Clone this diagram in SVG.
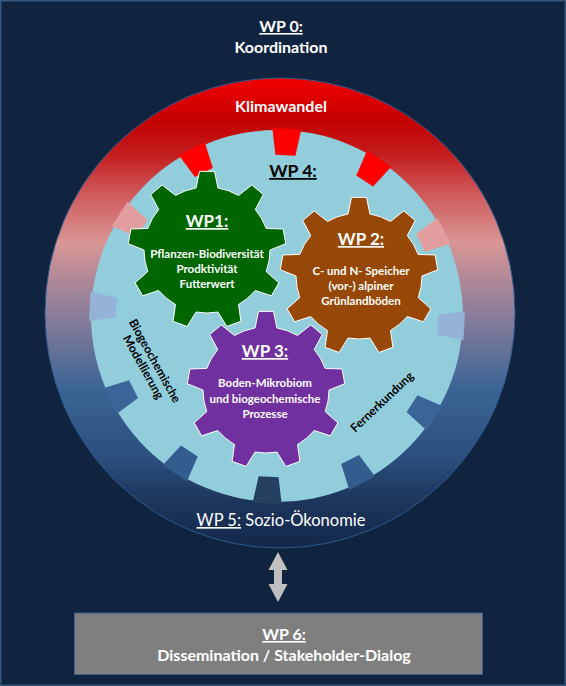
<svg xmlns="http://www.w3.org/2000/svg" xmlns:xlink="http://www.w3.org/1999/xlink" width="566" height="686" viewBox="0 0 566 686">
<style>
  text { font-family: "Lato", "Open Sans", "Liberation Sans", sans-serif; }
  .w { fill: #ffffff; font-weight: bold; }
  .k { fill: #000000; font-weight: bold; }
  .u { text-decoration: underline; }
  .gear { stroke: #ffffff; stroke-width: 1; }
  .g { font-size: 11.5px; }
</style>
<defs>
  <linearGradient id="ringGrad" x1="0" y1="0" x2="0" y2="1">
    <stop offset="0" stop-color="#f20000"/>
    <stop offset="0.09" stop-color="#c40000"/>
    <stop offset="0.16" stop-color="#c31c1c"/>
    <stop offset="0.25" stop-color="#cf5c5c"/>
    <stop offset="0.35" stop-color="#d99594"/>
    <stop offset="0.5" stop-color="#8c7e9a"/>
    <stop offset="0.66" stop-color="#3b6495"/>
    <stop offset="0.8" stop-color="#2c5080"/>
    <stop offset="0.9" stop-color="#1d365b"/>
    <stop offset="1" stop-color="#13274a"/>
  </linearGradient>
  <path id="tooth" d="M187.5,-14.5 L161,-10 L161,10 L187.5,14.5 Z"/>
  <path id="gear9" d="M-10.94,-62.04 L-7.49,-78.64 L7.49,-78.64 L10.94,-62.04 A63,63 0 0 1 31.5,-54.56 L44.82,-65.06 L56.29,-55.43 L48.26,-40.5 A63,63 0 0 1 59.2,-21.55 L76.15,-21.03 L78.75,-6.28 L63,0 A63,63 0 0 1 59.2,21.55 L71.85,32.84 L64.37,45.81 L48.26,40.5 A63,63 0 0 1 31.5,54.56 L33.94,71.34 L19.86,76.47 L10.94,62.04 A63,63 0 0 1 -10.94,62.04 L-19.86,76.47 L-33.94,71.34 L-31.5,54.56 A63,63 0 0 1 -48.26,40.5 L-64.37,45.81 L-71.85,32.84 L-59.2,21.55 A63,63 0 0 1 -63,0 L-78.75,-6.28 L-76.15,-21.03 L-59.2,-21.55 A63,63 0 0 1 -48.26,-40.5 L-56.29,-55.43 L-44.82,-65.06 L-31.5,-54.56 A63,63 0 0 1 -10.94,-62.04 Z"/>
</defs>

<rect x="0.75" y="0.75" width="564.5" height="684.5" fill="#11243f" stroke="#34557d" stroke-width="1.5"/>

<g id="wp0">
  <text class="w u" x="281" y="32" font-size="16" text-anchor="middle">WP 0:</text>
  <text class="w" x="281" y="53" font-size="16" text-anchor="middle">Koordination</text>
</g>

<g id="ring">
  <circle cx="280" cy="313" r="235" fill="url(#ringGrad)" stroke="#2f5a8c" stroke-width="1"/>
  <circle cx="277" cy="316" r="186" fill="#92cddc"/>
  <g transform="translate(277 316)">
    <use xlink:href="#tooth" transform="rotate(3)" fill="#95b3d7"/>
    <use xlink:href="#tooth" transform="rotate(33)" fill="#3a6598"/>
    <use xlink:href="#tooth" transform="rotate(63)" fill="#335d8f"/>
    <use xlink:href="#tooth" transform="rotate(93)" fill="#243f60"/>
    <use xlink:href="#tooth" transform="rotate(123)" fill="#335d8f"/>
    <use xlink:href="#tooth" transform="rotate(153)" fill="#3a6598"/>
    <use xlink:href="#tooth" transform="rotate(183)" fill="#95b3d7"/>
    <use xlink:href="#tooth" transform="rotate(213)" fill="#e29e9e"/>
    <use xlink:href="#tooth" transform="rotate(243)" fill="#ff0000"/>
    <use xlink:href="#tooth" transform="rotate(273)" fill="#ff0000"/>
    <use xlink:href="#tooth" transform="rotate(303)" fill="#ff0000"/>
    <use xlink:href="#tooth" transform="rotate(333)" fill="#e29e9e"/>
  </g>
  <text class="w" x="281" y="112" font-size="16" text-anchor="middle">Klimawandel</text>
  <text class="k u" x="293" y="177" font-size="17.5" text-anchor="middle">WP 4:</text>
  <text x="281" y="526" font-size="16.5" fill="#ffffff" text-anchor="middle"><tspan class="u">WP 5:</tspan> Sozio-Ökonomie</text>
</g>

<g id="wp1">
  <use xlink:href="#gear9" class="gear" transform="translate(207 250)" fill="#006600"/>
  <text class="w u" x="207" y="227" font-size="17" text-anchor="middle">WP1:</text>
  <text class="w g" x="207" y="258" text-anchor="middle">Pflanzen-Biodiversität</text>
  <text class="w g" x="207" y="273" text-anchor="middle">Prodktivität</text>
  <text class="w g" x="207" y="288" text-anchor="middle">Futterwert</text>
</g>

<g id="wp2">
  <use xlink:href="#gear9" class="gear" transform="translate(359 276)" fill="#974806"/>
  <text class="w u" x="361" y="245" font-size="17" text-anchor="middle">WP 2:</text>
  <text class="w g" x="361" y="275" text-anchor="middle">C- und N- Speicher</text>
  <text class="w g" x="361" y="290" text-anchor="middle">(vor-) alpiner</text>
  <text class="w g" x="361" y="305" text-anchor="middle">Grünlandböden</text>
</g>

<g id="wp3">
  <use xlink:href="#gear9" class="gear" transform="translate(266 390)" fill="#7030a0"/>
  <text class="w u" x="265" y="357" font-size="17" text-anchor="middle">WP 3:</text>
  <text class="w g" x="265" y="387" text-anchor="middle">Boden-Mikrobiom</text>
  <text class="w g" x="265" y="403" text-anchor="middle">und biogeochemische</text>
  <text class="w g" x="265" y="418" text-anchor="middle">Prozesse</text>
</g>

<g id="modellierung" transform="translate(149 364) rotate(61)">
  <text class="k" x="0" y="-2.5" font-size="12" text-anchor="middle">Biogeochemische</text>
  <text class="k" x="0" y="10.5" font-size="12" text-anchor="middle">Modellierung</text>
</g>

<g id="fernerkundung" transform="translate(382 402) rotate(-43.5)">
  <text class="k" x="0" y="4" font-size="12" text-anchor="middle">Fernerkundung</text>
</g>

<g id="connectors">
  <polygon points="278,552 268.5,570 274,570 274,584 268.5,584 278,602 287.5,584 282,584 282,570 287.5,570" fill="#bfbfbf"/>
</g>

<g id="wp6">
  <rect x="74.5" y="613" width="408" height="61.5" fill="#7f7f7f" stroke="#3a5f8f" stroke-width="1"/>
  <text class="w u" x="284" y="640" font-size="16" text-anchor="middle">WP 6:</text>
  <text class="w" x="284" y="661" font-size="16" text-anchor="middle">Dissemination / Stakeholder-Dialog</text>
</g>
</svg>
